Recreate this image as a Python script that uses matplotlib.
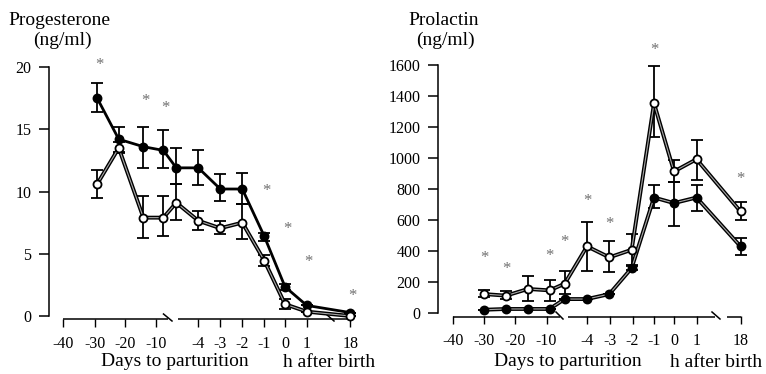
import numpy as np
import matplotlib
matplotlib.use('Agg')
import matplotlib.pyplot as plt

plt.rcParams['font.family'] = ['Liberation Serif', 'DejaVu Serif']

W, H = 766, 374

tick_labels = ['-40', '-30', '-20', '-10', '-4', '-3', '-2', '-1', '0', '1', '18']

# Progesterone (ng/ml)
prog_days = [-29, -22, -14, -7.5, -5, -4, -3, -2, -1]
prog_hours = [0, 1, 18]
prog_filled = [17.5, 14.2, 13.6, 13.3, 11.9, 11.9, 10.2, 10.2, 6.4, 2.35, 0.85, 0.27]
prog_filled_hi = [18.7, 15.2, 15.2, 14.9, 13.5, 13.3, 11.4, 11.5, 6.7, 2.6, 0.85, 0.27]
prog_filled_lo = [16.4, 13.2, 11.9, 11.9, 10.6, 10.5, 9.2, 9.0, 6.0, 2.1, 0.85, 0.27]
prog_open = [10.6, 13.5, 7.9, 7.9, 9.1, 7.65, 7.05, 7.5, 4.45, 0.95, 0.35, 0.0]
prog_open_hi = [11.7, 14.0, 9.6, 9.6, 10.6, 8.4, 7.6, 9.0, 4.9, 1.35, 0.35, 0.0]
prog_open_lo = [9.5, 13.1, 6.3, 6.4, 7.7, 6.9, 6.6, 6.2, 4.0, 0.6, 0.35, 0.0]
prog_star_idx = [0, 2, 3, 8, 9, 10, 11]
prog_star_y = [20.2, 17.3, 16.7, 10.05, 6.95, 4.3, 1.6]

# Prolactin (ng/ml)
prl_days = [-30, -23, -16, -9, -5, -4, -3, -2, -1]
prl_hours = [0, 1, 18]
prl_open = [122, 112, 155, 146, 189, 430, 359, 408, 1353, 913, 992, 655]
prl_open_hi = [150, 140, 240, 215, 273, 590, 466, 509, 1594, 988, 1117, 713]
prl_open_lo = [101, 90, 75, 75, 125, 273, 262, 305, 1134, 842, 859, 601]
prl_filled = [21, 26, 26, 26, 90, 90, 122, 290, 745, 709, 745, 430]
prl_filled_hi = [21, 26, 26, 26, 90, 90, 122, 310, 827, 842, 827, 483]
prl_filled_lo = [21, 26, 26, 26, 90, 90, 122, 275, 677, 563, 659, 376]
prl_star_idx = [0, 1, 3, 4, 5, 6, 8, 11]
prl_star_y = [354, 283, 365, 455, 720, 576, 1697, 863]

# layout (pixels)
left_ticks = [63.3, 95, 125, 155.7, 198.3, 220, 242.3, 264.3, 285, 306.7, 350.5]
right_ticks = [453.3, 484.3, 515, 546.5, 587, 610, 632.5, 654, 674, 696.5, 740.5]


def to_px(days, hours, ticks):
    t = dict(zip(tick_labels, ticks))
    s1 = (t['-10'] - t['-40']) / 30
    s2 = (t['-1'] - t['-4']) / 3
    xs = [t['-40'] + (d + 40) * s1 if d <= -7 else t['-4'] + (d + 4) * s2 for d in days]
    xs += [t[str(h)] for h in hours]
    return np.array(xs)


def draw_series(ax, x, y, lo, hi, filled, double):
    y = np.array(y, dtype=float)
    eb = ax.errorbar(x, y, yerr=[y - np.array(lo), np.array(hi) - y], fmt='none',
                     ecolor='black', elinewidth=1.3, capsize=4.5, capthick=1.3, zorder=2)
    for c in eb.get_children():
        c.set_clip_on(False)
    ax.plot(x, y, color='black', lw=2.8 if double else 2.0, clip_on=False, zorder=3,
            solid_joinstyle='miter')
    if double:
        ax.plot(x, y, color='#a8a8a8', lw=0.8, clip_on=False, zorder=3.1)
    ax.plot(x, y, 'o', ms=5.8, mfc='black' if filled else 'white', mec='black',
            mew=1.3, clip_on=False, zorder=4)


def setup_axes(ax, ticks, ymax, ystep):
    for s in ['top', 'right', 'bottom']:
        ax.spines[s].set_visible(False)
    ax.spines['bottom'].set_position(('outward', 2.3))
    ax.spines['left'].set_linewidth(1.1)
    ax.set_ylim(0, ymax)
    ax.set_yticks(np.arange(0, ymax + 1, ystep))
    ax.set_xticks(ticks, tick_labels)
    ax.tick_params(axis='y', direction='out', length=7.2, width=1.1, pad=5.5, labelsize=11.5)
    ax.tick_params(axis='x', direction='out', length=5.8, width=1.0, pad=6.5, labelsize=11.5)
    ax.patch.set_alpha(0)


fig = plt.figure(figsize=(W / 100, H / 100), dpi=100)

# overlay in pixel coords for the broken x axis lines and labels
ov = fig.add_axes([0, 0, 1, 1])
ov.set_xlim(0, W)
ov.set_ylim(H, 0)
ov.axis('off')

# left panel
ax1 = fig.add_axes([49 / W, (H - 316) / H, (360 - 49) / W, 249 / H])
ax1.set_xlim(49, 360)
setup_axes(ax1, left_ticks, 20, 5)
px = to_px(prog_days, prog_hours, left_ticks)
draw_series(ax1, px, prog_filled, prog_filled_lo, prog_filled_hi, True, False)
draw_series(ax1, px, prog_open, prog_open_lo, prog_open_hi, False, True)
for i, v in zip(prog_star_idx, prog_star_y):
    ax1.text(px[i] + 2, v, '*', color='#707070', fontsize=12, ha='center', va='center')

# right panel
ax2 = fig.add_axes([438 / W, (H - 313) / H, (766 - 438) / W, 248 / H])
ax2.set_xlim(438, 766)
setup_axes(ax2, right_ticks, 1600, 200)
px2 = to_px(prl_days, prl_hours, right_ticks)
draw_series(ax2, px2, prl_filled, prl_filled_lo, prl_filled_hi, True, True)
draw_series(ax2, px2, prl_open, prl_open_lo, prl_open_hi, False, True)
for i, v in zip(prl_star_idx, prl_star_y):
    ax2.text(px2[i], v, '*', color='#707070', fontsize=12, ha='center', va='center', clip_on=False)

# broken x axes
axis_lw = 1.1
for y0, segs, slashes in [
        (319, [(63.3, 168), (178, 350.5)], [(163.5, 172), (326, 334)]),
        (317, [(453.3, 560), (568, 715), (727, 740.5)], [(556, 563), (712, 720)])]:
    for a, b in segs:
        ov.plot([a, b], [y0, y0], color='black', lw=axis_lw, solid_capstyle='butt')
    for a, b in slashes:
        ov.plot([a, b], [y0 - 5, y0 + 2], color='black', lw=axis_lw)

txt = dict(fontsize=14, va='baseline')
ov.text(8, 25, 'Progesterone', ha='left', **txt)
ov.text(62, 45, '(ng/ml)', ha='center', **txt)
ov.text(408, 25, 'Prolactin', ha='left', **txt)
ov.text(445, 45, '(ng/ml)', ha='center', **txt)
ov.text(174.5, 366, 'Days to parturition', ha='center', **txt)
ov.text(329, 367, 'h after birth', ha='center', **txt)
ov.text(567.5, 366, 'Days to parturition', ha='center', **txt)
ov.text(716.5, 367, 'h after birth', ha='center', **txt)

fig.savefig('out.png', dpi=100)
